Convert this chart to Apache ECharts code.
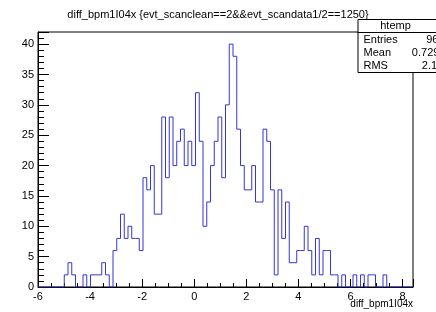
<!DOCTYPE html>
<html>
<head>
<meta charset="utf-8">
<script src="https://cdn.jsdelivr.net/npm/echarts@6/dist/echarts.min.js"></script>
<style>
  html, body { margin: 0; padding: 0; background: #fff; }
  #main { width: 436px; height: 312px; }
</style>
</head>
<body>
<div id="main"></div>
<script>
// diff_bpm1I04x 直方图 (TTree::Draw, 100 bins)
var xMin = -6;
var xMax = 8.4;
var nBins = 100;
var binWidth = (xMax - xMin) / nBins;

// 每个bin的计数
var counts = [
  0, 0, 0, 0, 0, 0, 0, 2, 4, 2,
  0, 0, 2, 0, 2, 2, 2, 4, 2, 0,
  6, 8, 12, 8, 10, 8, 8, 6, 18, 16,
  20, 12, 12, 28, 18, 28, 20, 24, 26, 20,
  24, 20, 32, 24, 10, 14, 20, 24, 28, 18,
  30, 40, 38, 26, 20, 16, 16, 20, 14, 14,
  26, 24, 16, 2, 16, 8, 14, 4, 4, 6,
  6, 10, 6, 2, 8, 2, 6, 6, 2, 2,
  0, 2, 0, 0, 2, 0, 2, 0, 2, 2,
  0, 0, 2, 0, 0, 0, 0, 0, 0, 0
];

var yMax = 42;
var xMajor = 2, xMinor = 0.5;
var yMajor = 5, yMinor = 1;

// 统计框
var statTitle = "htemp";
var statNames = ["Entries", "Mean", "RMS"];
var statValues = ["960", "0.7292", "2.117"];

var titleText = "diff_bpm1I04x {evt_scanclean==2&&evt_scandata1/2==1250}";
var xName = "diff_bpm1I04x";

var font = "Liberation Sans, Arial, Helvetica, sans-serif";

// 直方图轮廓点 (bin左边沿)
var histData = [];
for (var i = 0; i < counts.length; i++) {
  histData.push([xMin + i * binWidth, counts[i]]);
}
histData.push([xMax, counts[counts.length - 1]]);

function onTick(v, step) {
  var r = v / step;
  return Math.abs(r - Math.round(r)) < 1e-6;
}

var chart = echarts.init(document.getElementById("main"));

var option = {
  animation: false,
  backgroundColor: "#fff",
  title: {
    text: titleText,
    left: "center",
    top: 4,
    textStyle: { fontFamily: font, fontSize: 11, fontWeight: "normal", color: "#000" },
  },
  grid: {
    left: 38, top: 32, width: 375, height: 255,
    containLabel: false, outerBoundsMode: "none",
    show: true, borderColor: "#000", borderWidth: 1, backgroundColor: "transparent",
  },
  xAxis: [
    {
      type: "value", min: xMin, max: xMax, interval: xMajor,
      axisLine: { onZero: false, lineStyle: { color: "#000", width: 1 } },
      axisTick: { inside: true, length: 8, lineStyle: { color: "#000" } },
      axisLabel: {
        fontFamily: font, fontSize: 11, color: "#000", margin: 4,
        formatter: function (v) { return onTick(v, xMajor) ? String(v) : ""; },
      },
      splitLine: { show: false },
    },
    {
      type: "value", min: xMin, max: xMax, interval: xMinor, position: "bottom",
      axisLine: { show: false, onZero: false },
      axisTick: { inside: true, length: 4, lineStyle: { color: "#000" } },
      axisLabel: { show: false },
      splitLine: { show: false },
    },
  ],
  yAxis: [
    {
      type: "value", min: 0, max: yMax, interval: yMajor,
      axisLine: { show: true, onZero: false, lineStyle: { color: "#000", width: 1 } },
      axisTick: { show: true, inside: true, length: 11, lineStyle: { color: "#000" } },
      axisLabel: {
        fontFamily: font, fontSize: 11, color: "#000", margin: 4,
        formatter: function (v) { return onTick(v, yMajor) ? String(v) : ""; },
      },
      splitLine: { show: false },
    },
    {
      type: "value", min: 0, max: yMax, interval: yMinor, position: "left",
      axisLine: { show: false, onZero: false },
      axisTick: { show: true, inside: true, length: 6, lineStyle: { color: "#000" } },
      axisLabel: { show: false },
      splitLine: { show: false },
    },
  ],
  series: [
    {
      name: "htemp",
      type: "line",
      step: "end",
      data: histData,
      symbol: "none",
      lineStyle: { color: "#3535d8", width: 1 },
      z: 1,
    },
  ],
  graphic: [
    // x轴标题, 右对齐到坐标框右边
    {
      type: "text", right: 23, top: 299,
      style: { text: xName, font: "10px " + font, fill: "#000" },
    },
    {
      type: "group",
      left: 355, top: 19,
      children: [
        { type: "rect", shape: { x: 0.5, y: 0.5, width: 120, height: 53 }, style: { fill: "#fff", stroke: "#000", lineWidth: 1 } },
        { type: "line", shape: { x1: 0, y1: 13.5, x2: 120, y2: 13.5 }, style: { stroke: "#000", lineWidth: 1 } },
        { type: "text", x: 38, y: 7, style: { text: statTitle, font: "11px " + font, fill: "#000", align: "center", verticalAlign: "middle" } },
        { type: "text", x: 6, y: 21, style: { text: statNames[0], font: "11px " + font, fill: "#000", verticalAlign: "middle" } },
        { type: "text", x: 6, y: 34, style: { text: statNames[1], font: "11px " + font, fill: "#000", verticalAlign: "middle" } },
        { type: "text", x: 6, y: 47, style: { text: statNames[2], font: "11px " + font, fill: "#000", verticalAlign: "middle" } },
        { type: "text", x: 87, y: 21, style: { text: statValues[0], font: "11px " + font, fill: "#000", align: "right", verticalAlign: "middle" } },
        { type: "text", x: 88, y: 34, style: { text: statValues[1], font: "11px " + font, fill: "#000", align: "right", verticalAlign: "middle" } },
        { type: "text", x: 91, y: 47, style: { text: statValues[2], font: "11px " + font, fill: "#000", align: "right", verticalAlign: "middle" } },
      ],
    },
  ],
};

chart.setOption(option);

window.addEventListener("resize", function () {
  chart.resize();
});
</script>
</body>
</html>
